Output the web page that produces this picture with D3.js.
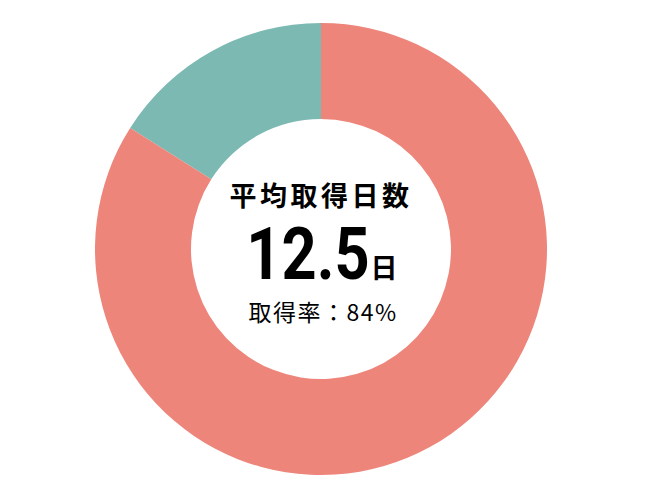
<!DOCTYPE html>
<html>
<head>
<meta charset="utf-8">
<script src="https://cdn.jsdelivr.net/npm/d3@7"></script>
<style>
  html, body { margin: 0; padding: 0; background: #fff; }
  svg { display: block; }
</style>
</head>
<body>
<div id="chart"></div>
<script>
// 取得率の内訳
const categories = ["未取得", "取得"];
const values = [16, 84];
const colors = ["#7db9b3", "#ed857a"];

const title = "平均取得日数";
const avgDays = "12.5";
const unit = "日";
const rateLabel = "取得率：84%";

const width = 650, height = 500;
const cx = 321, cy = 249;
const outerR = 226, innerR = 130;

const svg = d3.select("#chart").append("svg")
  .attr("width", width)
  .attr("height", height);

const g = svg.append("g")
  .attr("transform", `translate(${cx}, ${cy})`);

const pie = d3.pie().sort(null).value(d => d.value);
const arc = d3.arc().innerRadius(innerR).outerRadius(outerR);

const data = categories.map((c, i) => ({ name: c, value: values[i], color: colors[i] }));

// 反時計回りにするため開始角を -16% にずらす
const total = d3.sum(values);
pie.startAngle(-2 * Math.PI * values[0] / total)
   .endAngle(2 * Math.PI - 2 * Math.PI * values[0] / total);

g.selectAll("path")
  .data(pie(data))
  .enter()
  .append("path")
  .attr("d", arc)
  .attr("fill", d => d.data.color);

// 中央のテキスト
const jp = "'Noto Sans CJK JP', sans-serif";

g.append("text")
  .attr("x", 0)
  .attr("y", -43)
  .attr("text-anchor", "middle")
  .attr("font-family", jp)
  .attr("font-weight", 700)
  .attr("font-size", 27)
  .attr("letter-spacing", 3.5)
  .attr("fill", "#000")
  .text(title);

// 数字は縦長なので横方向に縮める
g.append("text")
  .attr("transform", "translate(-13, 30) scale(0.84, 1)")
  .attr("text-anchor", "middle")
  .attr("font-family", "'Roboto', sans-serif")
  .attr("font-weight", 700)
  .attr("font-size", 73)
  .attr("fill", "#000")
  .text(avgDays);

g.append("text")
  .attr("x", 63)
  .attr("y", 29)
  .attr("text-anchor", "middle")
  .attr("font-family", jp)
  .attr("font-weight", 700)
  .attr("font-size", 27)
  .attr("fill", "#000")
  .text(unit);

g.append("text")
  .attr("x", 2)
  .attr("y", 72)
  .attr("text-anchor", "middle")
  .attr("font-family", jp)
  .attr("font-size", 23)
  .attr("letter-spacing", 1.5)
  .attr("fill", "#000")
  .text(rateLabel);
</script>
</body>
</html>
